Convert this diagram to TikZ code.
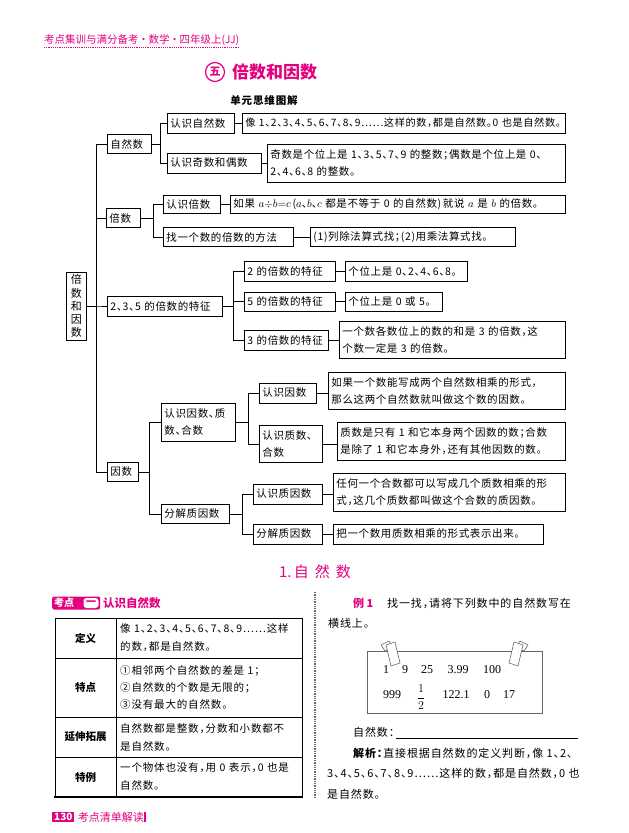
\documentclass[tikz,border=0pt]{standalone}
\usepackage{fontspec}
\setmainfont{Noto Sans CJK SC}[RawFeature=+halt]
\newfontfamily\mapfam{Noto Sans CJK SC}[LetterSpace=6,RawFeature=+halt]
\newfontfamily\cellfam{Noto Sans CJK SC}[LetterSpace=8,RawFeature=+halt]
\newfontfamily\numfam{Liberation Serif}
\usetikzlibrary{calc}
\definecolor{rosered}{HTML}{E4007F}
\definecolor{inkgray}{HTML}{666666}
\newcommand\mapfont{\mapfam\fontsize{10.5}{17}\selectfont}
\newcommand\cellfont{\cellfam\fontsize{10.5}{18}\selectfont}

\begin{document}
\begin{tikzpicture}[x=1pt,y=-1pt]
  \tikzstyle{lab}=[draw, line width=0.8pt, anchor=west, inner xsep=3pt,
    inner ysep=1pt, align=left, minimum height=19pt, font=\mapfont]
  \tikzstyle{edge}=[line width=0.8pt]
  \tikzstyle{cell}=[anchor=west, align=left, text width=180pt,
    inner sep=0pt, font=\cellfont]
  \tikzstyle{head}=[font=\bfseries\fontsize{10.5}{12}\selectfont]
  \tikzstyle{num}=[font=\numfam\fontsize{12}{12}\selectfont, inner sep=0pt]
  \tikzstyle{tape}=[draw=inkgray, fill=white, line width=0.6pt]

  \fill[white] (0,0) rectangle (629,833);
  \useasboundingbox (0,0) rectangle (629,833);

  \node[anchor=west, inner sep=0pt, text=rosered,
    font=\fontsize{10.5}{12}\selectfont] (hdr) at (44,40)
    {考点集训与满分备考 · 数学 · 四年级上(JJ)};
  \draw[rosered, densely dotted, line width=1.2pt]
    ([yshift=-2pt]hdr.south west) -- ([yshift=-2pt]hdr.south east);

  \node[draw=rosered, circle, line width=1.2pt, inner sep=0.5pt,
    minimum size=19pt, text=rosered,
    font=\bfseries\fontsize{11}{11}\selectfont] (unit) at (215,72) {五};
  \node[anchor=west, inner sep=0pt, text=rosered,
    font=\bfseries\fontsize{17}{17}\selectfont] (ttl) at (232,72)
    {倍数和因数};
  \node[font=\cellfam\bfseries\fontsize{10.5}{12}\selectfont] (sub) at (264,100)
    {单元思维图解};

  \node[lab, align=center, text width=14pt, minimum height=68pt,
    font=\mapfam\fontsize{11}{13.2}\selectfont] (root) at (66,306)
    {倍\\数\\和\\因\\数};

  \node[lab, text width=38pt] (zrs) at (107,144) {自然数};
  \node[lab, text width=28pt] (bs) at (106,218) {倍数};
  \node[lab, text width=109pt, minimum height=20pt] (tz) at (107,306) {2、3、5 的倍数的特征};
  \node[lab, text width=25pt] (ys) at (107,472) {因数};

  \node[lab, text width=61pt, minimum height=20pt] (rszr) at (167,123) {认识自然数};
  \node[lab, text width=88pt, minimum height=20pt] (jo) at (167,163) {认识奇数和偶数};
  \node[lab, text width=51pt, minimum height=18pt] (rsbs) at (163,204) {认识倍数};
  \node[lab, text width=124pt] (zbs) at (163,237) {找一个数的倍数的方法};
  \node[lab, text width=85pt, minimum height=20pt] (t2) at (244,271) {2 的倍数的特征};
  \node[lab, text width=85pt] (t5) at (244,301.5) {5 的倍数的特征};
  \node[lab, text width=78pt, minimum height=20pt] (t3) at (244,340) {3 的倍数的特征};
  \node[lab, text width=68pt, minimum height=38pt] (yzh) at (161,422) {认识因数、质\\数、合数};
  \node[lab, text width=62pt] (fj) at (161,514) {分解质因数};
  \node[lab, text width=51pt, minimum height=20pt] (rsys) at (259,393) {认识因数};
  \node[lab, text width=57pt, minimum height=37pt] (rszh) at (259,444) {认识质数、\\合数};
  \node[lab, text width=63pt, minimum height=20pt] (rszy) at (253,494) {认识质因数};
  \node[lab, text width=63pt, minimum height=20pt] (fj2) at (253,534) {分解质因数};

  \node[lab, text width=317pt, minimum height=20pt,
    font=\mapfam\fontsize{10.2}{17}\selectfont] (d1) at (242,123)
    {像 1、2、3、4、5、6、7、8、9……这样的数，都是自然数。0 也是自然数。};
  \node[lab, text width=292pt, minimum height=38pt] (d2) at (267,163)
    {奇数是个位上是 1、3、5、7、9 的整数；偶数是个位上是 0、\\2、4、6、8 的整数。};
  \node[lab, text width=329pt, minimum height=18pt] (d3) at (230,204)
    {如果 $a{\div}b{=}c$\,($a$、$b$、$c$ 都是不等于 0 的自然数)\,就说 $a$ 是 $b$ 的倍数。};
  \node[lab, text width=199pt] (d4) at (310,237)
    {(1)列除法算式找；(2)用乘法算式找。};
  \node[lab, text width=116pt, minimum height=20pt] (d5) at (345,271) {个位上是 0、2、4、6、8。};
  \node[lab, text width=91pt] (d6) at (345,301.5) {个位上是 0 或 5。};
  \node[lab, text width=220pt, minimum height=37pt] (d7) at (339,340)
    {一个数各数位上的数的和是 3 的倍数，这\\个数一定是 3 的倍数。};
  \node[lab, text width=231pt, minimum height=37pt] (d8) at (328,390.5)
    {如果一个数能写成两个自然数相乘的形式，\\那么这两个自然数就叫做这个数的因数。};
  \node[lab, text width=222pt, minimum height=38pt] (d9) at (337,441)
    {质数是只有 1 和它本身两个因数的数；合数\\是除了 1 和它本身外，还有其他因数的数。};
  \node[lab, text width=226pt, minimum height=38pt] (d10) at (333,492)
    {任何一个合数都可以写成几个质数相乘的形\\式，这几个质数都叫做这个合数的质因数。};
  \node[lab, text width=204pt, minimum height=20pt] (d11) at (333,534)
    {把一个数用质数相乘的形式表示出来。};

  \foreach \c in {zrs,bs,tz,ys} \draw[edge] (root.east) -- ++(10pt,0) |- (\c.west);
  \foreach \c in {rszr,jo} \draw[edge] (zrs.east) -- ++(9pt,0) |- (\c.west);
  \foreach \c in {rsbs,zbs} \draw[edge] (bs.east) -- ++(13pt,0) |- (\c.west);
  \foreach \c in {t2,t5,t3} \draw[edge] (tz.east) -- ++(11pt,0) |- (\c.west);
  \foreach \c in {yzh,fj} \draw[edge] (ys.east) -- ++(11pt,0) |- (\c.west);
  \foreach \c in {rsys,rszh} \draw[edge] (yzh.east) -- ++(13pt,0) |- (\c.west);
  \foreach \c in {rszy,fj2} \draw[edge] (fj.east) -- ++(13pt,0) |- (\c.west);
  \draw[edge] (rszr) -- (d1);
  \draw[edge] (jo) -- (d2);
  \draw[edge] (rsbs) -- (d3);
  \draw[edge] (zbs) -- (d4);
  \draw[edge] (t2) -- (d5);
  \draw[edge] (t5) -- (d6);
  \draw[edge] (t3) -- (d7);
  \draw[edge] (rsys.east) -- (rsys.east -| d8.west);
  \draw[edge] (rszh.east) -- (rszh.east -| d9.west);
  \draw[edge] (rszy.east) -- (rszy.east -| d10.west);
  \draw[edge] (fj2) -- (d11);

  \node[text=rosered, font=\fontsize{15}{15}\selectfont] (sec) at (315,572)
    {1.\,自\hspace{6pt}然\hspace{6pt}数};

  \node[fill=rosered, rounded corners=2pt, anchor=west, minimum width=48pt,
    minimum height=13pt, inner sep=0pt] (tag) at (52,603) {};
  \node[anchor=west, inner sep=0pt, text=white,
    font=\bfseries\fontsize{10}{10}\selectfont] (tagk) at (54,603) {考点};
  \node[fill=white, rounded corners=3pt, text=rosered, inner sep=0pt,
    minimum width=15pt, minimum height=10pt,
    font=\bfseries\fontsize{10}{10}\selectfont] (tagn) at (91,603) {一};
  \node[anchor=west, inner sep=0pt, text=rosered,
    font=\bfseries\fontsize{11.5}{12}\selectfont] (tagt) at (103,603) {认识自然数};

  \draw[line width=0.8pt] (55,618) rectangle (302,797);
  \draw[line width=0.8pt] (55,658) -- (302,658) (55,717) -- (302,717)
    (55,757) -- (302,757) (116,618) -- (116,797);
  \draw[line width=1.2pt] (54,797) -- (303,797);
  \node[head] (h1) at (85.5,638) {定义};
  \node[head] (h2) at (85.5,687.5) {特点};
  \node[head] (h3) at (85.5,737) {延伸拓展};
  \node[head] (h4) at (85.5,777) {特例};
  \node[cell] (c1) at (120,638) {像 1、2、3、4、5、6、7、8、9……这样\\的数，都是自然数。};
  \node[cell, font=\cellfam\fontsize{10.5}{17}\selectfont] (c2) at (120,687.5)
    {①相邻两个自然数的差是 1；\\②自然数的个数是无限的；\\③没有最大的自然数。};
  \node[cell] (c3) at (120,737) {自然数都是整数，分数和小数都不\\是自然数。};
  \node[cell] (c4) at (120,777) {一个物体也没有，用 0 表示，0 也是\\自然数。};

  \node[fill=rosered, text=white, anchor=west, inner xsep=2pt, inner ysep=1pt,
    font=\bfseries\fontsize{10}{10}\selectfont] (pgno) at (52,817) {130};
  \node[anchor=west, inner sep=1pt, text=rosered,
    font=\fontsize{11}{11}\selectfont] (pgtl) at ([xshift=2pt]pgno.east) {考点清单解读};
  \draw[rosered, line width=1.5pt] ([yshift=5pt]pgtl.east) -- ([yshift=-5pt]pgtl.east);

  \draw[inkgray, densely dotted, line width=1.3pt] (315,592) -- (315,798);

  \node[anchor=west, inner sep=0pt, text=rosered,
    font=\bfseries\fontsize{11}{11}\selectfont] (ex) at (353,603) {例 1};
  \node[anchor=west, inner sep=0pt, font=\cellfam\fontsize{11}{11}\selectfont]
    (exq) at (387,603) {找一找，请将下列数中的自然数写在};
  \node[anchor=west, inner sep=0pt, font=\cellfam\fontsize{11}{11}\selectfont]
    (exq2) at (328,623) {横线上。};

  \draw[draw=inkgray, line width=0.9pt] (367,651) rectangle (542,713);
  \draw[tape] (381,645) -- (389,641) -- (393,648) -- (385,651) -- cycle;
  \draw[tape] (386,645) -- (395,642) -- (400,663) -- (391,666) -- cycle;
  \draw[tape] (528,645) -- (520,641) -- (516,648) -- (524,651) -- cycle;
  \draw[tape] (523,645) -- (514,642) -- (509,663) -- (518,666) -- cycle;

  \node[num] (n1) at (386,670) {1};
  \node[num] (n2) at (405,670) {9};
  \node[num] (n3) at (427,670) {25};
  \node[num] (n4) at (458,670) {3.99};
  \node[num] (n5) at (492,670) {100};
  \node[num] (n6) at (392,695) {999};
  \node[num] (n7) at (421,697) {$\displaystyle\frac{1}{2}$};
  \node[num] (n8) at (456,695) {122.1};
  \node[num] (n9) at (487,695) {0};
  \node[num] (n10) at (509,695) {17};

  \node[anchor=west, inner sep=0pt, font=\cellfam\fontsize{11}{11}\selectfont]
    (blank) at (353,732) {自然数：};
  \coordinate (ansa) at (396,738);
  \coordinate (ansb) at (578,738);
  \draw[line width=0.8pt] (ansa) -- (ansb);

  \node[anchor=west, inner sep=0pt, font=\cellfam\fontsize{11}{11}\selectfont]
    (sol1) at (353,753) {\textbf{解析：}直接根据自然数的定义判断，像 1、2、};
  \node[anchor=west, inner sep=0pt, font=\cellfam\fontsize{11}{11}\selectfont]
    (sol2) at (327,773) {3、4、5、6、7、8、9……这样的数，都是自然数，0 也};
  \node[anchor=west, inner sep=0pt, font=\cellfam\fontsize{11}{11}\selectfont]
    (sol3) at (327,794) {是自然数。};
\end{tikzpicture}
\end{document}
